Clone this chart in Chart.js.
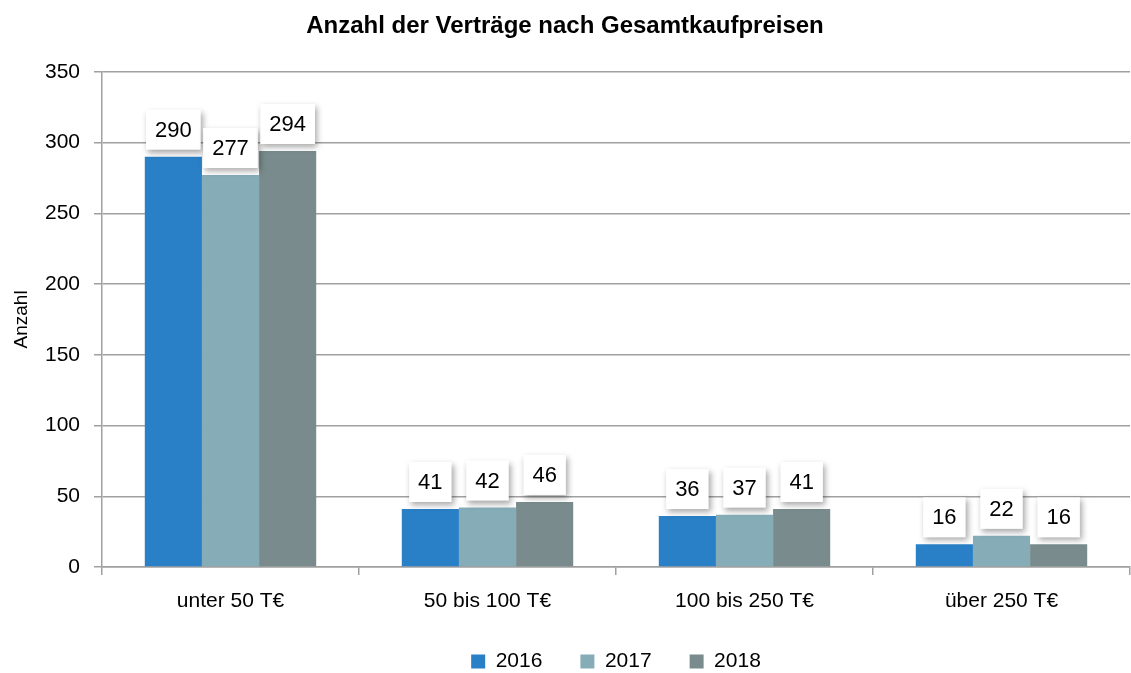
<!DOCTYPE html>
<html>
<head>
<meta charset="utf-8">
<script src="https://cdn.jsdelivr.net/npm/chart.js@4"></script>
<style>
  html, body { margin: 0; padding: 0; background: #fff; }
  #wrap { width: 1131px; height: 673px; }
</style>
</head>
<body>
<div id="wrap"><canvas id="kaufChart"></canvas></div>
<script>
// Anzahl der Verträge nach Gesamtkaufpreisen
const categories = ['unter 50 T€', '50 bis 100 T€', '100 bis 250 T€', 'über 250 T€'];
const years = ['2016', '2017', '2018'];
const values2016 = [290, 41, 36, 16];
const values2017 = [277, 42, 37, 22];
const values2018 = [294, 46, 41, 16];
const yTicks = [0, 50, 100, 150, 200, 250, 300, 350];

const FONT = "'Liberation Sans', Arial, sans-serif";
const colors = ['#2980c6', '#86adb7', '#798b8c'];

// white label boxes with soft shadow above each bar
const labelBoxes = {
    id: 'labelBoxes',
    afterDatasetsDraw(chart) {
        const ctx = chart.ctx;
        ctx.save();
        ctx.font = '22px ' + FONT;
        ctx.textAlign = 'center';
        ctx.textBaseline = 'middle';
        chart.data.datasets.forEach((ds, i) => {
            const meta = chart.getDatasetMeta(i);
            meta.data.forEach((bar, j) => {
                const txt = String(ds.data[j]);
                const w = ctx.measureText(txt).width + 18;
                const h = 40;
                const cx = bar.x;
                const cy = bar.y - 27;
                ctx.save();
                ctx.shadowColor = 'rgba(0,0,0,0.35)';
                ctx.shadowBlur = 6;
                ctx.shadowOffsetX = 2;
                ctx.shadowOffsetY = 3;
                ctx.fillStyle = '#fff';
                ctx.fillRect(cx - w / 2, cy - h / 2, w, h);
                ctx.restore();
                ctx.fillStyle = '#000';
                ctx.fillText(txt, cx, cy + 1);
            });
        });
        ctx.restore();
    }
};

// legend centred under the plot area instead of the whole canvas
const centerLegend = {
    id: 'centerLegend',
    afterLayout(chart) {
        const lg = chart.legend;
        if (!lg) return;
        const shift = (chart.chartArea.left + chart.chartArea.right) / 2 - (lg.left + lg.right) / 2;
        lg.left += shift;
        lg.right += shift;
    }
};

document.addEventListener('DOMContentLoaded', () => {
    const ctx = document.getElementById('kaufChart');
    new Chart(ctx, {
        type: 'bar',
        data: {
            labels: categories,
            datasets: [
                { label: years[0], data: values2016, backgroundColor: colors[0] },
                { label: years[1], data: values2017, backgroundColor: colors[1] },
                { label: years[2], data: values2018, backgroundColor: colors[2] }
            ]
        },
        options: {
            responsive: true,
            maintainAspectRatio: false,
            animation: false,
            datasets: {
                bar: {
                    barPercentage: 1,
                    categoryPercentage: 0.667
                }
            },
            layout: {
                padding: { top: 4, right: 1, left: 0, bottom: -9 }
            },
            plugins: {
                title: {
                    display: true,
                    text: 'Anzahl der Verträge nach Gesamtkaufpreisen',
                    color: '#000',
                    font: { family: FONT, size: 24, weight: 'bold' },
                    padding: { top: 8, bottom: 31 }
                },
                legend: {
                    position: 'bottom',
                    labels: {
                        color: '#000',
                        font: { family: FONT, size: 21 },
                        boxWidth: 14,
                        boxHeight: 14,
                        padding: 38
                    }
                },
                tooltip: { enabled: false }
            },
            scales: {
                y: {
                    min: 0,
                    max: 350,
                    afterBuildTicks(scale) {
                        scale.ticks = yTicks.map(v => ({ value: v }));
                    },
                    afterFit(scale) {
                        scale.width = 102;
                    },
                    title: {
                        display: true,
                        text: 'Anzahl',
                        color: '#000',
                        font: { family: FONT, size: 19 },
                        padding: { top: 10, bottom: 0 }
                    },
                    ticks: {
                        color: '#000',
                        font: { family: FONT, size: 21 },
                        padding: 14
                    },
                    grid: {
                        color: '#a0a0a0',
                        lineWidth: 1.5,
                        tickLength: 8
                    },
                    border: { color: '#a0a0a0', width: 1.5 }
                },
                x: {
                    afterFit(scale) {
                        scale.height = 46;
                    },
                    ticks: {
                        color: '#000',
                        font: { family: FONT, size: 21 },
                        padding: 14
                    },
                    grid: {
                        offset: true,
                        drawOnChartArea: false,
                        color: '#a0a0a0',
                        lineWidth: 1.5,
                        tickLength: 8
                    },
                    border: { color: '#a0a0a0', width: 1.5 }
                }
            }
        },
        plugins: [labelBoxes, centerLegend]
    });
});
</script>
</body>
</html>
